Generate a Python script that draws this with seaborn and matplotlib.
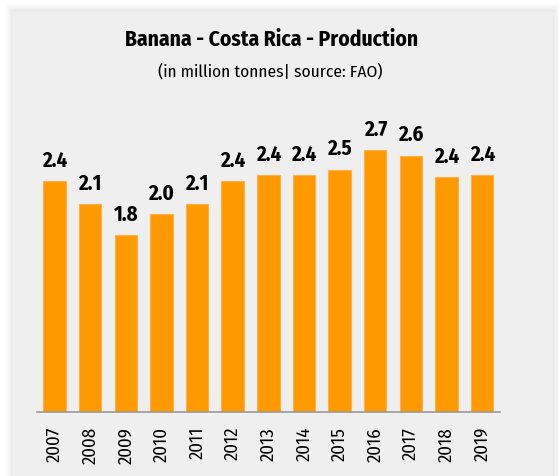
import matplotlib
matplotlib.use("Agg")
import matplotlib.pyplot as plt
import seaborn as sns
import pandas as pd
from matplotlib.patches import Rectangle

years = ["2007", "2008", "2009", "2010", "2011", "2012", "2013",
         "2014", "2015", "2016", "2017", "2018", "2019"]
production = [2.38, 2.14, 1.82, 2.04, 2.14, 2.38, 2.44,
              2.44, 2.50, 2.70, 2.64, 2.42, 2.44]
title = "Banana - Costa Rica - Production"
subtitle = "(in million tonnes| source: FAO)"

sns.set_theme(style="white")
plt.rcParams["font.family"] = ["Fira Sans Condensed", "PT Sans Narrow", "DejaVu Sans"]

W, H = 559, 477
fig = plt.figure(figsize=(W / 100, H / 100), dpi=100)
fig.patch.set_facecolor("white")

# card with soft shadow
cx0, cy_top, cx1 = 13, 12, 553
for i in range(7, 0, -1):
    fig.patches.append(Rectangle(((cx0 - i) / W, -0.05), (cx1 - cx0 + 2 * i) / W,
                                 (H - cy_top + i) / H + 0.05,
                                 transform=fig.transFigure, facecolor="#000000",
                                 alpha=0.012, edgecolor="none", zorder=-2))
fig.patches.append(Rectangle((cx0 / W, -0.05), (cx1 - cx0) / W, (H - cy_top) / H + 0.05,
                             transform=fig.transFigure, facecolor="#efefef",
                             edgecolor="none", zorder=-1))

base_y, top_y = 413, 140
ax = fig.add_axes([36.7 / W, 1 - base_y / H, (500 - 36.7) / W, (base_y - top_y) / H])
ax.set_facecolor("none")

df = pd.DataFrame({"year": years, "value": production})
sns.barplot(data=df, x="year", y="value", color="#FF9900", saturation=1,
            width=0.63, edgecolor="#FFB24A", linewidth=0.8, ax=ax)

ax.set_xlim(-0.5, 12.5)
ax.set_ylim(0, (base_y - top_y) / 97.0)
ax.bar_label(ax.containers[0], fmt="%.1f", padding=8, fontsize=15,
             fontweight="bold", color="black")

for s in ["top", "right", "left"]:
    ax.spines[s].set_visible(False)
ax.spines["bottom"].set_color("#999999")
ax.spines["bottom"].set_linewidth(1.2)
ax.set_yticks([])
ax.set_xlabel("")
ax.set_ylabel("")
ax.tick_params(axis="x", length=0, pad=10, labelsize=13.5, labelcolor="black")
plt.setp(ax.get_xticklabels(), rotation=90)

fig.text(271.5 / W, 1 - 40 / H, title, ha="center", va="center",
         fontsize=15.5, fontweight="bold", color="black")
fig.text(270.5 / W, 1 - 72 / H, subtitle, ha="center", va="center",
         fontsize=12.5, color="black")

fig.savefig("out.png", dpi=100)
